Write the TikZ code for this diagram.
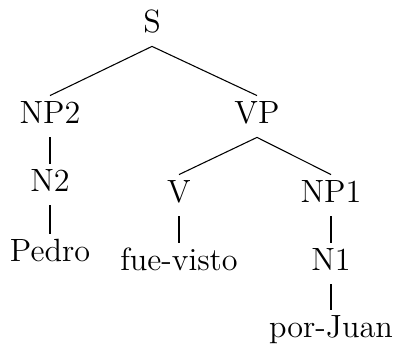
\documentclass[tikz,border=0pt]{standalone}
\usetikzlibrary{positioning}
\tikzset{
  syn/cat/.style={anchor=base, font=\large, inner sep=3pt, text height=7.4pt, text depth=1.8pt},
  syn/edge/.style={thin},
}
\begin{document}
\begin{tikzpicture}[x=0.373pt, y=-0.373pt]
  \useasboundingbox (0,0) rectangle (394,345);

  % Nivel 0 y 1
  \node[syn/cat] (s)   at (152,33)  {S};
  \node[syn/cat] (np2) at (50,124)  {NP2};
  \node[syn/cat] (vp)  at (257,124) {VP};

  % Rama izquierda
  \node[syn/cat] (n2)    at (50,192) {N2};
  \node[syn/cat] (pedro) at (50,262) {Pedro};

  % Rama derecha
  \node[syn/cat] (v)     at (179,203) {V};
  \node[syn/cat] (np1)   at (331,203) {NP1};
  \node[syn/cat] (visto) at (179,271) {fue-visto};
  \node[syn/cat] (n1)    at (331,271) {N1};
  \node[syn/cat] (juan)  at (331,338) {por-Juan};

  \draw[syn/edge] (s.south) -- (np2.north);
  \draw[syn/edge] (s.south) -- (vp.north);
  \draw[syn/edge] (np2.south) -- (n2.north);
  \draw[syn/edge] (n2.south) -- (pedro.north);
  \draw[syn/edge] (vp.south) -- (v.north);
  \draw[syn/edge] (vp.south) -- (np1.north);
  \draw[syn/edge] (v.south) -- (visto.north);
  \draw[syn/edge] (np1.south) -- (n1.north);
  \draw[syn/edge] (n1.south) -- (juan.north);
\end{tikzpicture}
\end{document}
